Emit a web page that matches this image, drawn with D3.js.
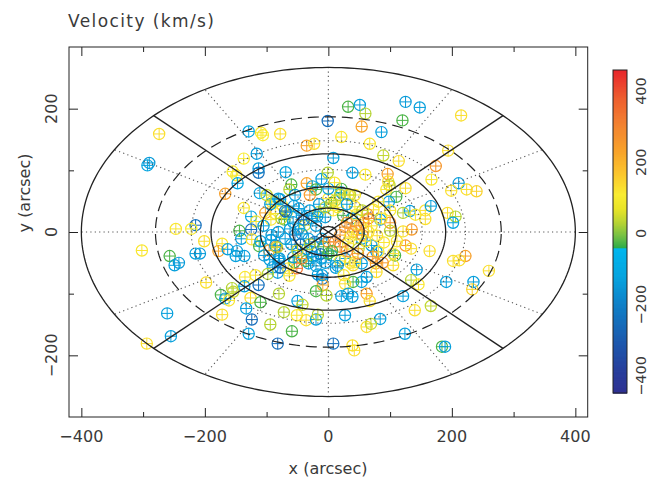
<!DOCTYPE html>
<html><head><meta charset="utf-8">
<script src="https://cdn.jsdelivr.net/npm/d3@7"></script>
<style>body{margin:0;background:#fff}svg{display:block}</style>
</head><body><svg id="c" width="650" height="483"></svg>
<script>
// ---------- data ----------
const xTicksMajor=[-400,-200,0,200,400];
const xTicksMinor=[-300,-100,100,300];
const yTicksMajor=[-200,0,200];
const yTicksMinor=[-100,100];
const cbTicks=[-400,-200,0,200,400];
const solidRings=[13,58,110,190,400];
const dottedRings=[84,152,222];
const dashedRings=[280];
const solidAngles=[45,135];
const dottedAngles=[0,30,60,90,120,150,180,210,240,270,300,330];
const axisRatio=0.667;
const cbDomain=[-448,459];

// [x arcsec, y arcsec, velocity km/s]
const pointsUpperLeft=[
[-274,159,130],[-293,108,-120],[-290,112,-140],[-129,163,-120],[-109,161,120],[-106,157,110],
[-78,159,130],[-1,180,-250],[-35,140,240],[-23,143,130],[-116,127,-140],[-137,119,110],
[-113,103,-130],[-113,96,-240],[-155,98,110],[-149,92,120],[-147,79,-110],[-167,62,240],
[-111,63,-120],[-69,97,-120],[-60,77,-25],[-63,69,30],[-35,79,230],[-26,74,-120],[-20,69,-25],
[-11,86,-130],[-1,96,30],[-87,49,30],[-74,42,120],[-66,34,110],[-71,20,-25],[-102,31,230],
[-93,20,120],[-125,25,-120],[-117,17,120],[-215,11,-240],[-247,5,120],[-222,5,110],
[-144,2,-25],[-125,4,-240],[-137,39,120]
];
const pointsUpperRight=[
[32,203,-25],[51,206,-130],[60,192,30],[125,211,-140],[148,202,-130],[215,189,130],
[120,181,-25],[54,171,230],[86,162,-130],[21,154,120],[67,143,120],[89,124,40],
[114,115,130],[8,120,-130],[194,132,130],[174,107,260],[39,96,-130],[60,93,120],
[96,94,240],[97,82,130],[99,76,40],[94,69,120],[125,71,130],[167,85,120],[211,79,-140],
[199,67,130],[224,69,130],[240,66,150],[110,57,-25],[21,70,-25],[21,64,-130],[98,49,-130],
[132,34,-130],[121,31,30],[157,35,130],[166,42,-130],[193,31,130],[206,25,30],[202,15,-120],
[73,36,120],[84,20,-130],[65,22,300],[100,15,260],[135,4,250],[121,1,130],[32,60,130],
[43,60,120],[5,47,-25],[157,21,130],[141,28,120]
];
const pointsLowerLeft=[
[-302,-30,120],[-257,-39,-25],[-249,-54,-130],[-242,-50,-140],[-215,-35,-130],[-208,-35,-140],
[-201,-15,130],[-172,-19,120],[-178,-31,230],[-163,-28,-130],[-150,-39,-130],[-136,-39,-130],
[-141,-11,-130],[-124,-12,130],[-112,-23,-25],[-93,-13,-140],[-85,-24,240],[-96,-30,230],
[-104,-38,-140],[-79,-43,-150],[-90,-57,-130],[-82,-66,-130],[-63,-71,120],[-51,-59,340],
[-55,-49,-25],[-32,-51,-130],[-36,-47,-25],[-17,-69,-130],[-10,-76,-240],[-9,-86,220],
[-20,-96,-25],[-3,-103,30],[-135,-73,120],[-118,-70,120],[-98,-68,30],[-198,-82,130],
[-136,-88,-130],[-113,-86,-240],[-156,-91,30],[-154,-97,40],[-174,-102,-25],[-167,-108,-130],
[-161,-111,120],[-126,-107,130],[-110,-114,-25],[-80,-100,30],[-50,-112,-130],[-42,-118,40],
[-72,-130,30],[-51,-135,120],[-36,-143,130],[-20,-142,-130],[-17,-134,30],[-172,-134,130],
[-133,-124,-130],[-124,-142,-250],[-94,-150,30],[-261,-132,-130],[-255,-169,-130],
[-294,-181,130],[-129,-165,-130],[-82,-181,-250],[-59,-161,-25]
];
const pointsLowerRight=[
[260,-63,130],[235,-81,-130],[233,-93,150],[222,-39,240],[202,-47,130],[212,-46,130],
[191,-81,-130],[164,-31,130],[143,-61,-130],[134,-78,30],[146,-85,120],[121,-104,-130],
[140,-127,130],[166,-120,40],[108,-38,-25],[105,-54,130],[125,-22,250],[134,-27,130],
[78,-32,-130],[77,-51,240],[78,-65,130],[62,-73,-130],[54,-81,-130],[40,-81,-25],[27,-84,130],
[62,-100,240],[67,-112,130],[39,-105,-130],[32,-100,-130],[21,-104,-130],[27,-135,-130],
[84,-141,-130],[62,-154,130],[69,-149,40],[124,-165,-130],[8,-181,-240],[39,-184,130],
[42,-192,130],[184,-186,-25],[189,-186,-130],[12,-58,-130],[40,-54,130],[54,-51,-130]
];
const pointsCenter=[
[-92,49,120],[-81,54,-130],[-54,60,-130],[-30,60,250],[0,54,120],[11,51,40],[19,60,40],
[35,60,40],[43,41,120],[81,49,120],[86,22,120],[-86,30,120],[-68,32,-130],[-76,22,40],
[-57,16,-130],[-43,27,-130],[-38,11,40],[-27,22,-130],[-16,32,40],[-5,24,-130],[8,35,120],
[24,27,-25],[38,22,-130],[51,11,120],[65,0,130],[54,-11,-130],[40,0,250],[27,8,260],
[19,-5,250],[11,-16,300],[-92,-5,-130],[-81,0,-130],[-70,-11,-130],[-86,-22,-130],
[-54,-5,-240],[-43,-3,-130],[-32,-11,-130],[-22,-16,-240],[-11,-11,-130],[-8,-24,-25],
[0,-16,260],[19,-24,260],[32,-19,120],[49,-27,40],[70,-22,-130],[81,-32,120],
[-81,-43,-130],[-57,-41,-130],[-43,-43,250],[-27,-32,-130],[-11,-43,-130],[5,-38,-130],
[27,-43,-130],[43,-49,120],[-65,-59,120],[-78,53,-130],[-94,45,-130],[-70,34,-240],
[-56,42,-130],[-148,-31,-130],[-83,-25,40],[-80,-47,-130],[-78,-58,-240],
[-13,-36,-250],[6,-31,-25],[30,-31,260],[19,-47,120],[63,29,250],[57,15,260],[46,-4,120],
[79,-6,130],[90,-17,120],[100,2,40],[111,-15,120]
];
const pointsCore=[
[-48,38,-130],[-40,20,-240],[-30,35,-130],[-20,10,-130],[-48,5,-130],[-60,-20,-130],
[-45,-20,-240],[-35,-28,-130],[-25,-40,-130],[-50,-30,30],[-62,5,-130],[-15,45,-130],
[-5,40,30],[15,40,120],[30,45,-130],[45,28,120],[55,35,40],[30,15,250],[45,10,260],
[55,-5,250],[35,-8,120],[60,-15,120],[48,-35,260],[35,-50,120],[15,-55,-130],[-5,-50,-130],
[-20,-55,-130],[0,-35,-25],[-30,-20,30],[-18,25,-130],[70,10,120],[72,-40,250],
[-105,10,-130],[-110,-15,-130],[-100,60,40],[100,35,120],[105,-35,120],[-95,-45,-130],
[88,-50,250],[0,70,-130],[10,80,120],[-10,-70,-130],[25,-70,120]
];

// ---------- drawing ----------
const svg=d3.select("#c");
const x=d3.scaleLinear().domain([-420,420]).range([69,587.7]);
const y=d3.scaleLinear().domain([-300,300]).range([417,47]);
const cb=d3.scaleLinear().domain(cbDomain).range([393,70]);
const color=d3.scaleLinear()
  .domain([-448,-380,-300,-200,-120,-40,-39.9,-10,30,70,110,170,230,300,380,459])
  .range(["#2e3092","#273f9c","#1b5aae","#0f7fc7","#05a4df","#00b6ee","#2aac48","#6cbd45","#b5d334","#e8e427","#f9ec31","#fbc52c","#f8a42a","#f38530","#ee5f2f","#e8262c"])
  .clamp(true);
const FONT='"DejaVu Sans",sans-serif', TXT="#3a3a3a";
const rad=a=>a*Math.PI/180;
const P=(r,a)=>[x(r*Math.cos(rad(a))), y(axisRatio*r*Math.sin(rad(a)))];

// markers
const allPts=[...pointsUpperLeft,...pointsUpperRight,...pointsLowerLeft,...pointsLowerRight,...pointsCenter,...pointsCore];
const R=5.6;
const mg=svg.append("g");
allPts.forEach(p=>{
  const cx=x(p[0]), cy=y(p[1]), c=color(p[2]);
  mg.append("circle").attr("cx",cx).attr("cy",cy).attr("r",R).attr("fill","none").attr("stroke",c).attr("stroke-width",1.2);
  mg.append("path").attr("d",`M${cx-R},${cy}H${cx+R}M${cx},${cy-R}V${cy+R}`).attr("stroke",c).attr("stroke-width",1);
});

// grid
const gg=svg.append("g").attr("fill","none");
const ellPath=r=>d3.line()(d3.range(0,361,1.5).map(t=>P(r,t)));
dottedRings.forEach(r=>gg.append("path").attr("d",ellPath(r)).attr("stroke","#555").attr("stroke-width",1.1).attr("stroke-dasharray","1.2 3.2"));
dottedAngles.forEach(a=>gg.append("path").attr("d",d3.line()([P(13,a),P(400,a)])).attr("stroke","#555").attr("stroke-width",1.1).attr("stroke-dasharray","1.2 3.2"));
dashedRings.forEach(r=>gg.append("path").attr("d",ellPath(r)).attr("stroke","#222").attr("stroke-width",1.2).attr("stroke-dasharray","11 6"));
solidRings.forEach(r=>gg.append("path").attr("d",ellPath(r)).attr("stroke","#222").attr("stroke-width",1.3));
solidAngles.forEach(a=>gg.append("path").attr("d",d3.line()([P(400,a),P(400,a+180)])).attr("stroke","#222").attr("stroke-width",1.3));

// frame & ticks
svg.append("rect").attr("x",69).attr("y",47).attr("width",587.7-69).attr("height",370).attr("fill","none").attr("stroke","#222").attr("stroke-width",1);
function tickAxis(gen, tr, vals, size){
  const g=svg.append("g").attr("transform",tr).call(gen.tickValues(vals).tickSizeInner(-size).tickSizeOuter(0).tickFormat(""));
  g.select(".domain").remove();
  g.selectAll("line").attr("stroke","#222");
  return g;
}
tickAxis(d3.axisBottom(x),"translate(0,417)",xTicksMajor,9);
tickAxis(d3.axisBottom(x),"translate(0,417)",xTicksMinor,5);
tickAxis(d3.axisTop(x),"translate(0,47)",xTicksMajor,9);
tickAxis(d3.axisTop(x),"translate(0,47)",xTicksMinor,5);
tickAxis(d3.axisLeft(y),"translate(69,0)",yTicksMajor,9);
tickAxis(d3.axisLeft(y),"translate(69,0)",yTicksMinor,5);
tickAxis(d3.axisRight(y),"translate(587.7,0)",yTicksMajor,9);
tickAxis(d3.axisRight(y),"translate(587.7,0)",yTicksMinor,5);

const fmt=v=>v<0?"\u2212"+Math.abs(v):String(v);
xTicksMajor.forEach(v=>svg.append("text").attr("x",x(v)).attr("y",442).attr("text-anchor","middle")
  .attr("font-family",FONT).attr("font-size",16).attr("fill",TXT).text(fmt(v)));
yTicksMajor.forEach(v=>svg.append("text").attr("transform",`translate(57,${y(v)}) rotate(-90)`).attr("text-anchor","middle")
  .attr("font-family",FONT).attr("font-size",16).attr("fill",TXT).text(fmt(v)));
svg.append("text").attr("x",328).attr("y",474).attr("text-anchor","middle").attr("font-family",FONT).attr("font-size",16).attr("fill",TXT).text("x (arcsec)");
svg.append("text").attr("transform","translate(30,193) rotate(-90)").attr("text-anchor","middle").attr("font-family",FONT).attr("font-size",16).attr("fill",TXT).text("y (arcsec)");
svg.append("text").attr("x",68).attr("y",27).attr("font-family",FONT).attr("font-size",17).attr("letter-spacing",1.4).attr("fill",TXT).text("Velocity (km/s)");

// colorbar
const cbg=svg.append("g");
d3.range(cbDomain[0],cbDomain[1],1).forEach(v=>{
  cbg.append("rect").attr("x",613).attr("width",14).attr("y",cb(v+1)).attr("height",cb(v)-cb(v+1)+0.6).attr("fill",color(v+0.5));
});
cbg.append("rect").attr("x",613).attr("y",70).attr("width",14).attr("height",323).attr("fill","none").attr("stroke","#222").attr("stroke-width",1);
cbTicks.forEach(v=>svg.append("text").attr("transform",`translate(646,${cb(v)}) rotate(-90)`).attr("text-anchor","middle")
  .attr("font-family",FONT).attr("font-size",14.5).attr("fill",TXT).text(fmt(v)));
</script></body></html>
